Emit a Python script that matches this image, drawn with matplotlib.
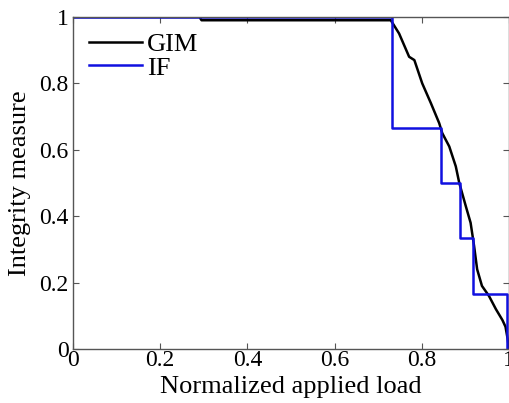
import matplotlib
matplotlib.use('Agg')
import matplotlib.pyplot as plt

# GIM curve (black)
gim_x = [0, 0.29, 0.295, 0.729, 0.748, 0.771, 0.783, 0.801, 0.821, 0.840, 0.847,
         0.863, 0.878, 0.886, 0.901, 0.912, 0.920, 0.927, 0.938, 0.954, 0.970,
         0.985, 0.992, 0.997, 1.0]
gim_y = [1, 1, 0.99, 0.99, 0.95, 0.88, 0.87, 0.80, 0.74, 0.68, 0.65,
         0.61, 0.55, 0.50, 0.43, 0.38, 0.31, 0.24, 0.19, 0.16, 0.12,
         0.087, 0.067, 0.03, 0.0]

# IF step curve (blue)
if_x = [0, 0.732, 0.844, 0.888, 0.918, 0.996, 0.996]
if_y = [1, 2 / 3, 1 / 2, 1 / 3, 1 / 6, 0, 0]

xticks = [0, 0.2, 0.4, 0.6, 0.8, 1]
yticks = [0, 0.2, 0.4, 0.6, 0.8, 1]
ticklabels = ['0', '0.2', '0.4', '0.6', '0.8', '1']

plt.rcParams['font.family'] = ['Liberation Serif', 'DejaVu Serif']

fig = plt.figure(figsize=(5.1, 4.03), dpi=100)
ax = fig.add_axes([0.143, 0.134, 0.855, 0.824])

ax.plot(gim_x, gim_y, color='black', lw=1.8, label='GIM')
ax.step(if_x, if_y, where='post', color='#1010e0', lw=1.8, label='IF')

ax.set_xlim(0, 1)
ax.set_ylim(0, 1)
ax.set_xticks(xticks)
ax.set_yticks(yticks)
ax.set_xticklabels(ticklabels)
ax.set_yticklabels(ticklabels)
ax.tick_params(direction='in', top=True, right=True, length=4, labelsize=17,
               color='#555555')
ax.tick_params(axis='x', pad=1)
ax.tick_params(axis='y', pad=3)
for s in ax.spines.values():
    s.set_color('#555555')
    s.set_linewidth(1.0)

ax.set_xlabel('Normalized applied load', fontsize=19, labelpad=3)
ax.set_ylabel('Integrity measure', fontsize=19, labelpad=6)

ax.legend(loc='upper left', frameon=False, fontsize=19, handlelength=2.0,
          handletextpad=0.2, borderaxespad=0.2, labelspacing=0.0)

fig.savefig('out.png', dpi=100)
